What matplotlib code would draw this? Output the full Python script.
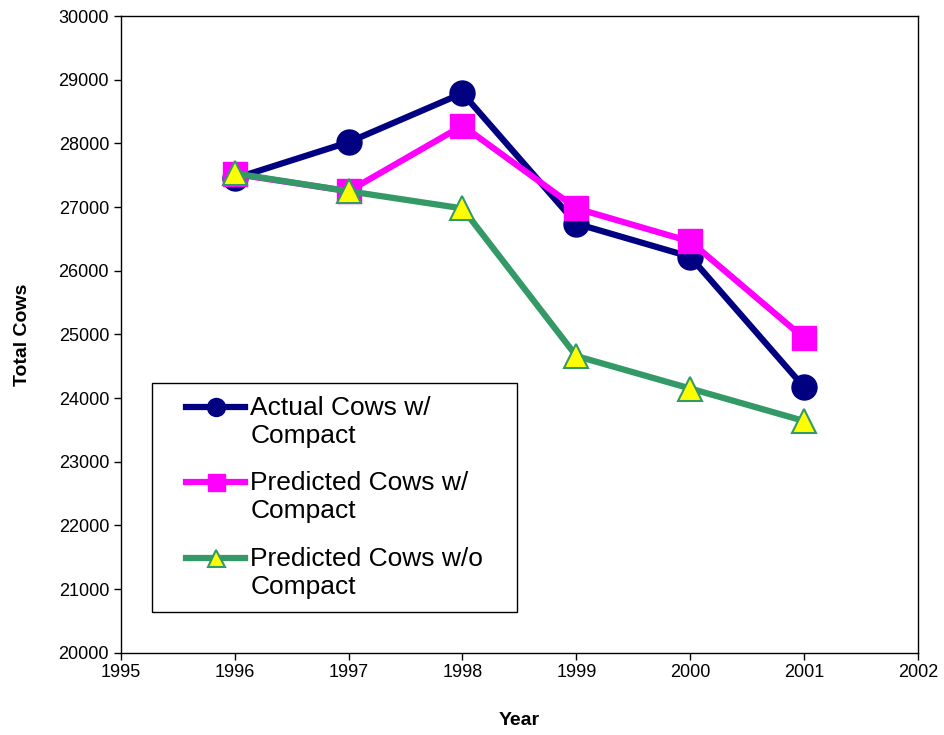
import matplotlib.pyplot as plt
from matplotlib.legend_handler import HandlerLine2D

plt.rcParams['font.family'] = ['Liberation Sans', 'DejaVu Sans']

anos = [1996, 1997, 1998, 1999, 2000, 2001]
vacas_reais = [27450, 28020, 28790, 26740, 26220, 24170]
previstas_com = [27520, 27250, 28280, 26980, 26460, 24940]
previstas_sem = [27530, 27250, 26980, 24660, 24150, 23640]

rotulos = ["Actual Cows w/\nCompact", "Predicted Cows w/\nCompact", "Predicted Cows w/o\nCompact"]


class ManipuladorTopo(HandlerLine2D):
    # alinha o simbolo com a primeira linha do rotulo
    def create_artists(self, legend, orig_handle, xdescent, ydescent, width, height, fontsize, trans):
        return super().create_artists(legend, orig_handle, xdescent, ydescent - 1.15 * fontsize,
                                      width, height, fontsize, trans)


fig = plt.figure(figsize=(9.44, 7.35), dpi=100)
ax = fig.add_axes([0.128, 0.112, 0.8445, 0.866])

l1, = ax.plot(anos, vacas_reais, color='#000080', lw=4.5, marker='o', ms=18,
              mfc='#000080', mec='#000080', label=rotulos[0])
l2, = ax.plot(anos, previstas_com, color='#FF00FF', lw=4.5, marker='s', ms=17,
              mfc='#FF00FF', mec='#FF00FF', label=rotulos[1])
l3, = ax.plot(anos, previstas_sem, color='#339966', lw=4.5, marker='^', ms=17,
              mfc='#FFFF00', mec='#339966', mew=1.5, label=rotulos[2])

ax.set_xlim(1995, 2002)
ax.set_ylim(20000, 30000)
ax.set_xticks(range(1995, 2003))
ax.set_yticks(range(20000, 30001, 1000))
ax.tick_params(labelsize=13, direction='out', length=5, width=1)
for s in ax.spines.values():
    s.set_linewidth(1)

ax.set_xlabel("Year", fontsize=14, fontweight='bold', labelpad=22)
ax.set_ylabel("Total Cows", fontsize=14, fontweight='bold', labelpad=20)

manip = {l: ManipuladorTopo(numpoints=1, xpad=0.8) for l in (l1, l2, l3)}
leg = ax.legend(loc='lower left', bbox_to_anchor=(0.039, 0.064, 0.458, 0.36),
                mode='expand', borderaxespad=0, handler_map=manip,
                fontsize=19, numpoints=1, handlelength=3.03, handletextpad=0.2,
                labelspacing=0.9, markerscale=0.72, fancybox=False, framealpha=1,
                edgecolor='black', borderpad=0.5)
leg.get_frame().set_linewidth(1)

fig.savefig('out.png', dpi=100)
